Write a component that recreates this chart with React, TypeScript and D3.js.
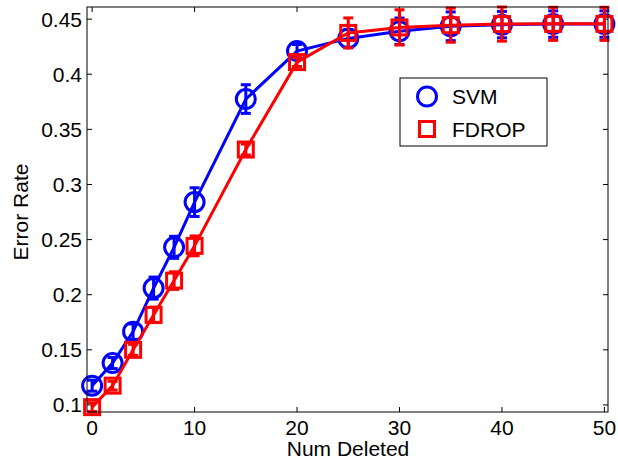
import * as d3 from 'd3';

const numDeleted = [0, 2, 4, 6, 8, 10, 15, 20, 25, 30, 35, 40, 45, 50];
const svmRate = [0.1175, 0.138, 0.1665, 0.206, 0.243, 0.284, 0.3775, 0.421, 0.4325, 0.439, 0.4435, 0.445, 0.4455, 0.4455];
const svmErr = [0.005, 0.005, 0.007, 0.01, 0.01, 0.013, 0.013, 0.006, 0.008, 0.012, 0.013, 0.012, 0.012, 0.012];
const fdropRate = [0.098, 0.1175, 0.15, 0.1817, 0.2128, 0.2443, 0.3317, 0.411, 0.4375, 0.4425, 0.4445, 0.4455, 0.4457, 0.4457];
const fdropErr = [0.004, 0.004, 0.005, 0.007, 0.008, 0.009, 0.005, 0.004, 0.0136, 0.016, 0.0155, 0.0155, 0.015, 0.015];
const xTicks = [0, 10, 20, 30, 40, 50];
const yTicks = [0.1, 0.15, 0.2, 0.25, 0.3, 0.35, 0.4, 0.45];

const W = 618;
const H = 461;
const left = 87, right = 608, top = 7, bottom = 412;
const font = 'Liberation Sans, Arial, sans-serif';

export default function App() {
  const x = d3.scaleLinear().domain([-0.5, 50.35]).range([left, right]);
  const y = d3.scaleLinear().domain([0.0936, 0.461]).range([bottom, top]);

  const series = [
    { name: 'SVM', color: '#0000ff', vals: svmRate, errs: svmErr, marker: 'circle' },
    { name: 'FDROP', color: '#ff0000', vals: fdropRate, errs: fdropErr, marker: 'square' },
  ];

  const line = d3.line<number>().x((_, i) => x(numDeleted[i])).y(d => y(d));

  const marker = (kind: string, cx: number, cy: number, color: string, key?: any) =>
    kind === 'circle' ? (
      <circle key={key} cx={cx} cy={cy} r={9.5} fill="none" stroke={color} strokeWidth={3} />
    ) : (
      <rect key={key} x={cx - 7.5} y={cy - 7.5} width={15} height={15} fill="none" stroke={color} strokeWidth={3} />
    );

  return (
    <svg width={W} height={H} style={{ position: 'absolute', left: 0, top: 0, background: '#fff' }}>
      <rect x={0} y={0} width={W} height={H} fill="#fff" />
      {/* ticks, inward on all four sides */}
      {xTicks.map(t => (
        <g key={'x' + t}>
          <line x1={x(t)} x2={x(t)} y1={bottom} y2={bottom - 5} stroke="#000" />
          <line x1={x(t)} x2={x(t)} y1={top} y2={top + 5} stroke="#000" />
          <text x={x(t)} y={435} textAnchor="middle" fontFamily={font} fontSize={21}>{t}</text>
        </g>
      ))}
      {yTicks.map(t => (
        <g key={'y' + t}>
          <line x1={left} x2={left + 5} y1={y(t)} y2={y(t)} stroke="#000" />
          <line x1={right} x2={right - 5} y1={y(t)} y2={y(t)} stroke="#000" />
          <text x={82} y={y(t) + 7.5} textAnchor="end" fontFamily={font} fontSize={21}>{d3.format('')(t)}</text>
        </g>
      ))}
      {series.map(s => (
        <g key={s.name}>
          {s.vals.map((v, i) => {
            const cx = x(numDeleted[i]);
            const y1 = y(v - s.errs[i]);
            const y2 = y(v + s.errs[i]);
            return (
              <g key={i} stroke={s.color} strokeWidth={3}>
                <line x1={cx} x2={cx} y1={y1} y2={y2} />
                <line x1={cx - 5} x2={cx + 5} y1={y1} y2={y1} />
                <line x1={cx - 5} x2={cx + 5} y1={y2} y2={y2} />
              </g>
            );
          })}
          <path d={line(s.vals) || ''} fill="none" stroke={s.color} strokeWidth={3} />
          {s.vals.map((v, i) => marker(s.marker, x(numDeleted[i]), y(v), s.color, i))}
        </g>
      ))}
      <rect x={left} y={top} width={right - left} height={bottom - top} fill="none" stroke="#000" strokeWidth={1} />
      {/* legend */}
      <rect x={400} y={78} width={147} height={68} fill="#fff" stroke="#000" strokeWidth={1} />
      {series.map((s, i) => (
        <g key={'leg' + s.name}>
          {marker(s.marker, 427, 96.5 + i * 32.5, s.color)}
          <text x={452} y={104 + i * 32.5} fontFamily={font} fontSize={21}>{s.name}</text>
        </g>
      ))}
      <text x={348} y={456} textAnchor="middle" fontFamily={font} fontSize={21}>Num Deleted</text>
      <text transform={`translate(28,${y(0.275)}) rotate(-90)`} textAnchor="middle" fontFamily={font} fontSize={21}>Error Rate</text>
    </svg>
  );
}
